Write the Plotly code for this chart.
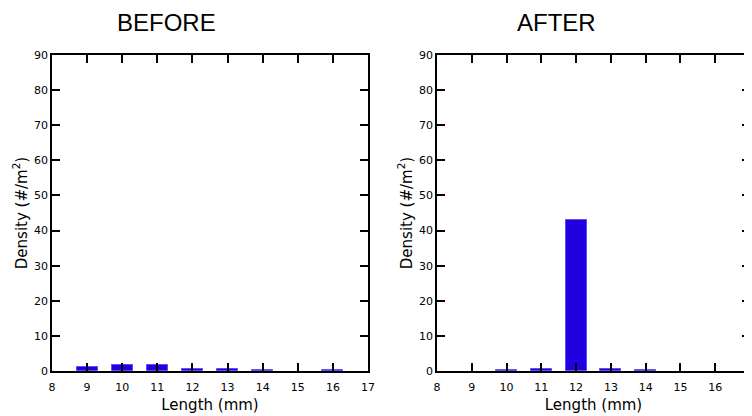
import plotly.graph_objects as go

lengths = [9, 10, 11, 12, 13, 14, 15, 16]
before = [1.2, 1.7, 1.8, 0.6, 0.6, 0.15, None, 0.15]
after = [None, 0.15, 0.6, 43, 0.6, 0.15, None, None]
x_ticks = list(range(8, 18))
y_ticks = list(range(0, 100, 10))

# page has an 8px body margin; figure sized to fit the 752x416 window
OFF = 8
W, H = 752 - OFF, 416 - OFF


def fx(px):
    return (px - OFF) / W


def fy(py):
    return (H - (py - OFF)) / H


fig = go.Figure()
for i, vals in enumerate([before, after]):
    fig.add_trace(go.Bar(
        x=lengths, y=vals, width=0.6,
        marker=dict(color="#2200E0", line=dict(color="#5f50ff", width=1)),
        xaxis="x" if i == 0 else "x2", yaxis="y" if i == 0 else "y2",
        showlegend=False,
    ))

ydom = [fy(371), fy(55)]
axcommon = dict(showline=True, linecolor="black", linewidth=1.5, mirror="ticks",
                ticks="inside", ticklen=8, tickwidth=1.5, tickcolor="black",
                showgrid=False, zeroline=False, automargin=False,
                tickfont=dict(family="DejaVu Sans", size=11, color="black"))
tfont = dict(family="DejaVu Sans", size=15, color="black")
ylab = "Density (#/m<sup>2</sup>)"

fig.update_layout(
    width=W, height=H, margin=dict(l=0, r=0, t=0, b=0, autoexpand=False),
    plot_bgcolor="white", paper_bgcolor="white",
    bargap=0,
    xaxis=dict(domain=[fx(52), fx(368)], range=[8, 17], tickvals=x_ticks,
               title=dict(text="Length (mm)", font=tfont, standoff=7),
               ticklabelstandoff=5, anchor="y", **axcommon),
    yaxis=dict(domain=ydom, range=[0, 90], tickvals=y_ticks,
               title=dict(text=ylab, font=tfont, standoff=3),
               anchor="x", **axcommon),
    xaxis2=dict(domain=[fx(437), fx(750)], range=[8, 17], tickvals=x_ticks,
                title=dict(text="Length (mm)", font=tfont, standoff=7),
                ticklabelstandoff=5, anchor="y2", **axcommon),
    yaxis2=dict(domain=ydom, range=[0, 90], tickvals=y_ticks,
                title=dict(text=ylab, font=tfont, standoff=3),
                anchor="x2", **axcommon),
    annotations=[
        dict(text="BEFORE", x=fx(166), y=fy(23), xref="paper", yref="paper",
             xanchor="center", yanchor="middle",
             showarrow=False, font=dict(family="Liberation Sans", size=24, color="black")),
        dict(text="AFTER", x=fx(556), y=fy(23), xref="paper", yref="paper",
             xanchor="center", yanchor="middle",
             showarrow=False, font=dict(family="Liberation Sans", size=24, color="black")),
    ],
)
fig.write_html("out.html")
